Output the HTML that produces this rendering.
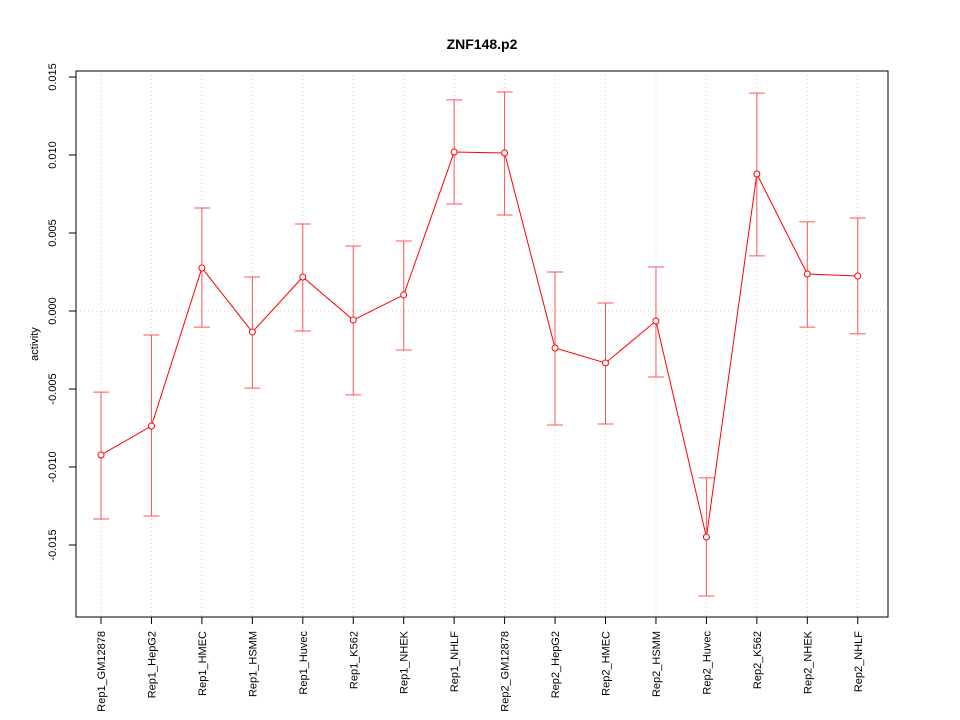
<!DOCTYPE html>
<html><head><meta charset="utf-8"><style>
body{margin:0;background:#fff;}
svg{display:block;font-family:"Liberation Sans",sans-serif;}
</style></head><body>
<svg id="chart" width="960" height="720">
<text x="482" y="49" text-anchor="middle" font-size="14" font-weight="bold">ZNF148.p2</text>
<text transform="translate(38,344) rotate(-90)" text-anchor="middle" font-size="11">activity</text>
<g id="grid"></g><g id="axes"></g><g id="marks"></g>
<rect x="76" y="71" width="812" height="546" fill="none" stroke="#000"/>
</svg>
<script>
const categories=["Rep1_GM12878","Rep1_HepG2","Rep1_HMEC","Rep1_HSMM","Rep1_Huvec","Rep1_K562","Rep1_NHEK","Rep1_NHLF","Rep2_GM12878","Rep2_HepG2","Rep2_HMEC","Rep2_HSMM","Rep2_Huvec","Rep2_K562","Rep2_NHEK","Rep2_NHLF"];
const values=[-0.00923,-0.00737,0.00276,-0.00135,0.00218,-0.00058,0.00103,0.01019,0.01013,-0.00237,-0.00333,-0.00064,-0.01449,0.00878,0.00237,0.00224];
const upper=[-0.0052,-0.00154,0.0066,0.00218,0.00558,0.00417,0.00449,0.01353,0.01404,0.0025,0.00051,0.00282,-0.0107,0.01397,0.00571,0.00596];
const lower=[-0.01333,-0.01314,-0.00103,-0.00494,-0.00128,-0.00538,-0.0025,0.00686,0.00615,-0.00731,-0.00724,-0.00423,-0.01827,0.00353,-0.00103,-0.00147];
const yTicks=[-0.015,-0.01,-0.005,0,0.005,0.01,0.015];
const yTickLabels=["-0.015","-0.010","-0.005","0.000","0.005","0.010","0.015"];
const NS="http://www.w3.org/2000/svg";
const x=i=>101+i*50.45;
const y=v=>311-v/0.005*78;
function mk(parent,tag,attrs){const e=document.createElementNS(NS,tag);for(const k in attrs)e.setAttribute(k,attrs[k]);document.getElementById(parent).appendChild(e);return e;}
const zg=mk('grid','line',{x1:76,x2:888,y1:y(0),y2:y(0),stroke:'#d0d0d0','stroke-dasharray':'1,3'});


yTicks.forEach((t,i)=>{
  const tk=mk('axes','line',{x1:69,x2:76,y1:y(t),y2:y(t),stroke:'#000'});
  
  
  const tx=mk('axes','text',{transform:`translate(56,${y(t)}) rotate(-90)`,'text-anchor':'middle','font-size':11});
  tx.textContent=yTickLabels[i];
  
  
});
categories.forEach((c,i)=>{
  const g=mk('grid','line',{x1:x(i),x2:x(i),y1:71,y2:617,stroke:'#d0d0d0','stroke-dasharray':'1,3'});
  
  
  const tk=mk('axes','line',{x1:x(i),x2:x(i),y1:617,y2:624,stroke:'#000'});
  
  
  const tx=mk('axes','text',{transform:`translate(${x(i)+4},631) rotate(-90)`,'text-anchor':'end','font-size':11});
  tx.textContent=c;
  
  
});
const pts=values.map((v,i)=>x(i)+','+y(v)).join(' ');
const ln=mk('marks','polyline',{points:pts,fill:'none',stroke:'#f00','stroke-width':1});


values.forEach((v,i)=>{
  const xi=x(i);
  const eb=mk('marks','path',{d:`M${xi},${y(upper[i])}V${y(lower[i])}M${xi-8},${y(upper[i])}H${xi+8}M${xi-8},${y(lower[i])}H${xi+8}`,stroke:'#f55',fill:'none'});
  
  
  const p=mk('marks','circle',{cx:xi,cy:y(v),r:3,fill:'#fff',stroke:'#f00'});
  
  
});
</script>
</body></html>
